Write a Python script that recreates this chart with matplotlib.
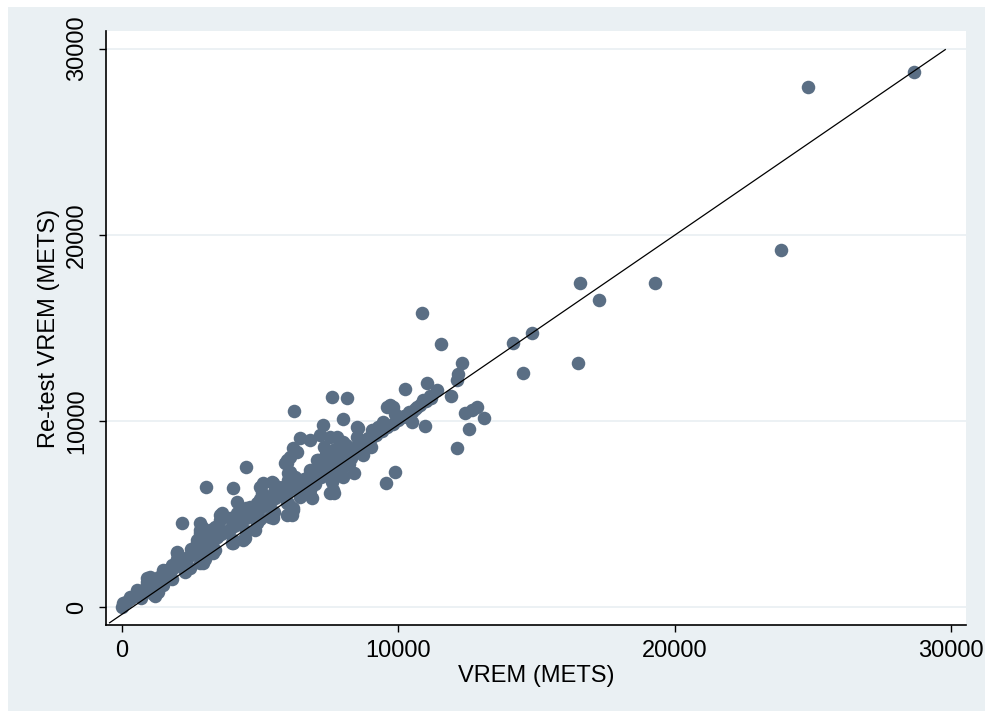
import matplotlib.pyplot as plt
from matplotlib.patches import Rectangle

# VREM vs re-test VREM (METS)
vrem = [
    # outlying / upper part
    28660, 24820, 23840, 19280, 16590, 17280, 14850, 14170, 14530, 16490,
    13120, 10870, 11560, 12320, 12170, 12140, 11050, 10250, 11920, 12430,
    12680, 12860, 12570, 10980, 12140, 9890, 9565, 7610, 8150, 6230,
    8000, 7280,
    # chain along the line, 8500-11500
    11410, 11160, 10900, 10690, 10510, 10330, 10510, 10070, 9820, 9710,
    9600, 9890, 9460, 9280, 9060, 8910, 8800, 8700, 8730, 8550,
    8510, 8510,
    # loop
    6450, 6810, 7170, 7540, 7790, 8010, 6200, 6090, 5980, 6090,
    6270, 6450, 6700,
    # blob inside loop
    7100, 7400, 7700, 8000, 8300, 7500, 7900, 8200, 8400, 7200,
    6900, 7600, 8000, 8100, 7300, 6810, 7060,
    # below the loop
    7600, 7640, 7680, 6810, 6880, 5980, 6200, 7540, 6810,
    # middle
    4490, 3040, 4020, 4170, 5980, 6340, 6010, 6160, 5110, 5430,
    5650, 5070, 5360, 4890, 4640, 4380, 4170, 3910, 3620, 3550,
    3370, 3190, 2900, 2830, 2720, 3840, 4380, 4020, 5360, 6090,
    6200, 4890, 6450, 5000, 5470, 5830, 5900, 3550, 5980, 5470,
    4460, 4820, 6160, 3990,
    # low end
    2170, 2830, 2930, 3190, 2720, 1990, 2100, 1810, 1630, 1010,
    910, 540, 290, 40, 0, 1120, 1300, 2280, 2460, 2830,
    2830, 3370, 3440, 2830, 1990, 910, 1200, 2930, 3000, 1500,
    700, 1800,
    # dense band just above the line
    150, 300, 450, 600, 750, 900, 1050, 1200, 1350, 1500,
    1650, 1800, 1950, 2100, 2250, 2400, 2550, 2700, 2850, 3000,
    3150, 3300, 3450, 3600, 3750, 3900, 4050, 4200, 4350, 4500,
    4650, 4800, 4950, 5100, 5250, 5400, 5550, 5700, 5850, 6000,
    6150, 6300, 6450, 6600, 6750, 6900, 7050, 7200, 7350, 7500,
    7650, 7800, 7950, 8100, 8250, 8400, 8550, 8700, 8850, 9000,
    9200, 9400, 9600, 9800, 10000, 10200, 10400, 10600, 10800, 11000,
    11200,
    # upper edge of the band
    1500, 2000, 2500, 3000, 3500, 4000, 4500, 5000, 5500, 6000,
    # just below the line
    4000, 5000, 6000, 7000, 8000, 9000, 3300, 5500, 6500, 4500,
]
retest = [
    28760, 27950, 19190, 17420, 17420, 16500, 14730, 14190, 12580, 13120,
    10160, 15800, 14140, 13120, 12530, 12200, 12040, 11720, 11340, 10430,
    10590, 10750, 9570, 9730, 8550, 7260, 6670, 11290, 11240, 10540,
    10110, 9780,
    11670, 11340, 11130, 10750, 10480, 10210, 9950, 10160, 10750, 10860,
    10750, 10380, 9950, 9680, 9520, 9090, 8800, 8440, 8170, 9620,
    9140, 9680,
    9090, 8980, 9250, 9140, 9140, 8870, 8550, 8060, 7740, 7260,
    6990, 6720, 6450,
    7900, 8200, 8500, 8300, 8000, 7600, 7500, 7700, 7200, 7000,
    6700, 7100, 7000, 8700, 8600, 7370, 7900,
    6720, 6290, 6130, 6290, 5860, 5590, 5210, 6130, 6020,
    7530, 6450, 6400, 5650, 7900, 8330, 7200, 6830, 6670, 6720,
    6450, 6130, 5910, 5590, 5380, 5110, 5050, 4780, 5050, 4680,
    4300, 4140, 4300, 3980, 3600, 4030, 3600, 3440, 4840, 5050,
    5320, 4520, 5910, 6450, 6670, 6450, 7740, 4950, 4950, 4780,
    3710, 4140, 4950, 3440,
    4520, 4520, 4030, 3600, 3440, 2960, 2630, 2260, 1990, 1610,
    1340, 910, 540, 215, 0, 700, 800, 1900, 2100, 2370,
    2900, 3060, 3760, 4140, 2900, 1560, 600, 2370, 2600, 1200,
    500, 1500,
    250, 450, 600, 800, 900, 1100, 1250, 1350, 1600, 1700,
    1850, 2050, 2200, 2350, 2500, 2700, 2850, 3000, 3150, 3300,
    3450, 3550, 3750, 3900, 4050, 4200, 4350, 4450, 4650, 4800,
    4950, 5100, 5250, 5400, 5550, 5700, 5850, 6000, 6150, 6250,
    6400, 6550, 6700, 6850, 7000, 7100, 7250, 7400, 7550, 7700,
    7850, 8000, 8150, 8250, 8400, 8550, 8700, 8850, 8950, 9100,
    9250, 9450, 9650, 9850, 10050, 10250, 10450, 10650, 10850, 11050,
    11250,
    2000, 2600, 3100, 3700, 4200, 4700, 5300, 5800, 6200, 6800,
    3600, 4700, 5600, 6600, 7500, 8600, 2900, 5100, 6100, 4100,
]

# fitted line end points
fit_x = [-450, 29800]
fit_y = [-850, 29950]

ticks = [0, 10000, 20000, 30000]
tick_labels = ["0", "10000", "20000", "30000"]

plt.rcParams["font.family"] = ["Liberation Sans", "DejaVu Sans"]

fig = plt.figure(figsize=(9.85, 7.11), dpi=100)
fig.patches.append(Rectangle((8 / 985, 0), 1, 1 - 7 / 711, transform=fig.transFigure,
                             facecolor="#eaf0f3", edgecolor="none", zorder=-10))

ax = fig.add_axes([106 / 985, 1 - 625 / 711, 860 / 985, 594 / 711])
ax.set_zorder(1)
ax.set_facecolor("white")

ax.scatter(vrem, retest, s=95, color="#5a6e84", marker="o", linewidths=0, zorder=3)
ax.plot(fit_x, fit_y, color="black", lw=0.9, zorder=4)

ax.set_xlim(-580, 30550)
ax.set_ylim(-970, 30950)
ax.set_xticks(ticks)
ax.set_xticklabels(tick_labels)
ax.set_yticks(ticks)
ax.set_yticklabels(tick_labels, rotation=90, va="center")

ax.tick_params(axis="both", length=5, width=1, direction="out", labelsize=17, color="black")
ax.tick_params(axis="x", pad=6)
ax.tick_params(axis="y", pad=8)

for side in ("top", "right"):
    ax.spines[side].set_visible(False)
for side in ("left", "bottom"):
    ax.spines[side].set_linewidth(1.2)

ax.yaxis.grid(True, color="#eaf0f3", lw=1.3)
ax.set_axisbelow(True)

ax.set_xlabel("VREM (METS)", fontsize=17, labelpad=2)
ax.set_ylabel("Re-test VREM (METS)", fontsize=17, labelpad=4)

fig.savefig("out.png", dpi=100)
